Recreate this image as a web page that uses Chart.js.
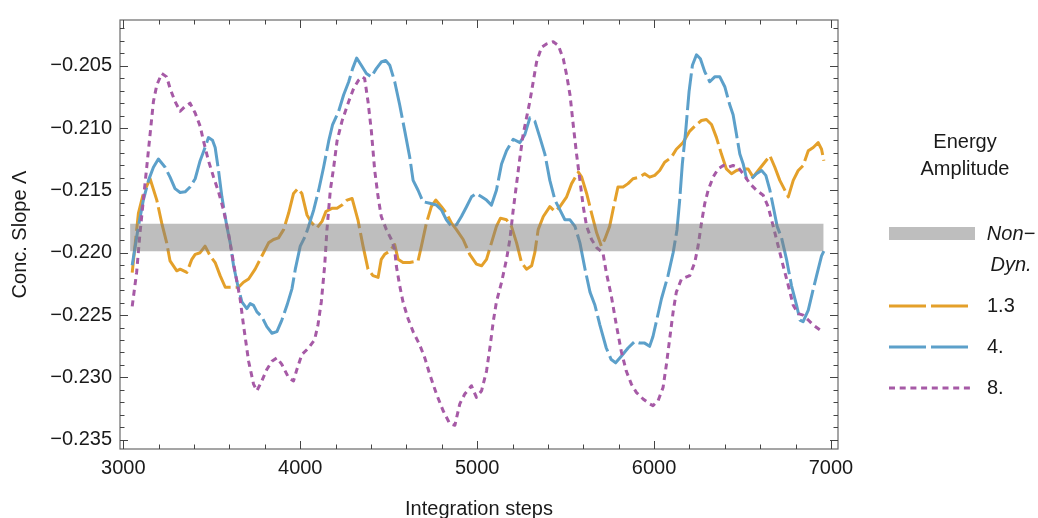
<!DOCTYPE html>
<html>
<head>
<meta charset="utf-8">
<script src="https://cdn.jsdelivr.net/npm/chart.js@4.4.1/dist/chart.umd.min.js"></script>
<style>
  body { margin: 0; background: #fff; }
  #wrap { width: 1038px; height: 518px; }
</style>
</head>
<body>
<div id="wrap"><canvas id="myChart" width="1038" height="518"></canvas></div>
<script>
// series 1.3
var steps13 = [3050,3085,3113,3151,3189,3217,3245,3264,3302,3321,3359,3387,3406,3434,3462,3491,3519,3547,3576,3613,3651,3679,3708,3745,3783,3821,3849,3877,3906,3934,3962,3987,4009,4038,4066,4094,4123,4145,4179,4208,4236,4264,4293,4326,4355,4383,4411,4440,4458,4477,4506,4534,4553,4581,4619,4666,4685,4713,4741,4766,4798,4826,4855,4883,4921,4958,4996,5025,5053,5081,5109,5132,5166,5194,5223,5251,5279,5308,5326,5345,5374,5411,5440,5468,5506,5534,5572,5591,5619,5647,5676,5702,5721,5749,5768,5796,5825,5853,5881,5919,5947,5975,6004,6032,6060,6098,6126,6164,6202,6240,6268,6296,6325,6353,6381,6409,6438,6466,6494,6532,6560,6589,6626,6655,6683,6711,6759,6787,6815,6843,6872,6900,6928,6947,6960];
var vals13 = [-0.2216,-0.21684,-0.21525,-0.21407,-0.21578,-0.21763,-0.21921,-0.22066,-0.22145,-0.22132,-0.22158,-0.22053,-0.22013,-0.22000,-0.21947,-0.22026,-0.22079,-0.22184,-0.22277,-0.22277,-0.22277,-0.22237,-0.22211,-0.22132,-0.22026,-0.21921,-0.21894,-0.21881,-0.21815,-0.21684,-0.21525,-0.21486,-0.21525,-0.21697,-0.21763,-0.21802,-0.21749,-0.21670,-0.21644,-0.21644,-0.21618,-0.21578,-0.21565,-0.21736,-0.21947,-0.22132,-0.22184,-0.22198,-0.22053,-0.22013,-0.21987,-0.21934,-0.22053,-0.22079,-0.22079,-0.22066,-0.21947,-0.21763,-0.21631,-0.21578,-0.21631,-0.21684,-0.21763,-0.21815,-0.21894,-0.22013,-0.22092,-0.22105,-0.22053,-0.21921,-0.21789,-0.21723,-0.21736,-0.21789,-0.21921,-0.22079,-0.22132,-0.22105,-0.22000,-0.21815,-0.21710,-0.21631,-0.21670,-0.21631,-0.21552,-0.21446,-0.21354,-0.21394,-0.21525,-0.21684,-0.21842,-0.21947,-0.21894,-0.21789,-0.21657,-0.21473,-0.21473,-0.21446,-0.21407,-0.21394,-0.21367,-0.21394,-0.21380,-0.21341,-0.21275,-0.21235,-0.21170,-0.21117,-0.21025,-0.20972,-0.20940,-0.20932,-0.20972,-0.21077,-0.21209,-0.21328,-0.21367,-0.21341,-0.21328,-0.21328,-0.21394,-0.21341,-0.21275,-0.21222,-0.21315,-0.21420,-0.21552,-0.21420,-0.21341,-0.21301,-0.21183,-0.21156,-0.21117,-0.21170,-0.21262];

// series 4.
var steps4 = [3050,3085,3113,3142,3170,3198,3236,3264,3292,3321,3349,3377,3406,3434,3462,3481,3504,3519,3538,3557,3585,3604,3623,3647,3670,3698,3717,3736,3755,3783,3811,3840,3868,3896,3925,3953,3972,4000,4028,4047,4076,4104,4132,4161,4183,4217,4245,4274,4296,4319,4345,4374,4402,4430,4458,4483,4506,4534,4562,4591,4619,4638,4666,4694,4732,4770,4798,4826,4855,4883,4911,4940,4968,4996,5025,5053,5081,5109,5138,5166,5204,5242,5270,5298,5326,5355,5383,5411,5440,5468,5496,5525,5553,5581,5610,5638,5666,5694,5730,5758,5783,5815,5853,5891,5919,5947,5975,5994,6013,6042,6079,6108,6130,6145,6160,6179,6198,6217,6240,6262,6287,6315,6343,6372,6400,6428,6447,6466,6485,6504,6523,6551,6579,6608,6632,6655,6674,6696,6721,6749,6777,6806,6825,6843,6872,6896,6919,6947,6960];
var vals4 = [-0.2210,-0.21789,-0.21578,-0.21420,-0.21315,-0.21249,-0.21315,-0.21394,-0.21486,-0.21517,-0.21512,-0.21473,-0.21407,-0.21262,-0.21156,-0.21077,-0.21098,-0.21156,-0.21341,-0.21552,-0.21789,-0.21921,-0.22105,-0.22263,-0.22395,-0.22448,-0.22408,-0.22422,-0.22474,-0.22514,-0.22593,-0.22646,-0.22633,-0.22540,-0.22422,-0.22290,-0.22132,-0.21947,-0.21868,-0.21789,-0.21657,-0.21499,-0.21315,-0.21104,-0.20972,-0.20866,-0.20735,-0.20629,-0.20524,-0.20439,-0.20497,-0.20563,-0.20590,-0.20524,-0.20471,-0.20458,-0.20497,-0.20629,-0.20814,-0.21025,-0.21235,-0.21420,-0.21499,-0.21591,-0.21604,-0.21618,-0.21657,-0.21736,-0.21789,-0.21776,-0.21710,-0.21631,-0.21552,-0.21525,-0.21552,-0.21578,-0.21618,-0.21499,-0.21288,-0.21183,-0.21090,-0.21117,-0.21051,-0.20919,-0.20945,-0.21077,-0.21209,-0.21420,-0.21578,-0.21657,-0.21736,-0.21736,-0.21789,-0.21921,-0.22132,-0.22316,-0.22422,-0.22580,-0.22764,-0.22857,-0.22883,-0.22830,-0.22764,-0.22712,-0.22725,-0.22725,-0.22751,-0.22672,-0.22553,-0.22369,-0.22184,-0.22000,-0.21815,-0.21578,-0.21288,-0.21025,-0.20708,-0.20497,-0.20413,-0.20445,-0.20550,-0.20629,-0.20590,-0.20590,-0.20669,-0.20814,-0.20893,-0.21051,-0.21209,-0.21288,-0.21407,-0.21407,-0.21367,-0.21341,-0.21380,-0.21499,-0.21631,-0.21789,-0.21881,-0.22053,-0.22263,-0.22422,-0.22540,-0.22553,-0.22461,-0.22316,-0.22184,-0.22026,-0.21987];

// series 8.
var steps8 = [3050,3075,3094,3113,3132,3151,3170,3189,3217,3245,3264,3292,3321,3349,3377,3406,3434,3453,3481,3510,3538,3566,3594,3613,3632,3660,3679,3708,3736,3755,3783,3811,3840,3868,3896,3934,3962,3981,4009,4047,4081,4100,4119,4138,4151,4170,4189,4208,4236,4274,4302,4330,4350,4364,4383,4402,4421,4440,4458,4487,4515,4534,4543,4562,4581,4609,4638,4675,4704,4732,4770,4807,4845,4874,4902,4930,4968,4996,5025,5053,5072,5091,5109,5138,5166,5185,5204,5223,5242,5260,5279,5298,5317,5336,5364,5392,5430,5459,5487,5506,5525,5543,5562,5581,5600,5619,5647,5676,5711,5730,5758,5787,5815,5843,5872,5900,5938,5975,5994,6023,6051,6070,6089,6108,6126,6155,6202,6230,6249,6268,6287,6306,6334,6362,6391,6419,6447,6475,6504,6542,6579,6617,6645,6674,6702,6730,6759,6787,6815,6843,6872,6900,6938,6960];
var vals8 = [-0.2243,-0.22158,-0.21842,-0.21578,-0.21315,-0.21051,-0.20787,-0.20656,-0.20563,-0.20590,-0.20682,-0.20787,-0.20866,-0.20827,-0.20801,-0.20880,-0.20985,-0.21104,-0.21262,-0.21394,-0.21512,-0.21657,-0.21842,-0.22000,-0.22158,-0.22369,-0.22580,-0.22870,-0.23054,-0.23107,-0.23028,-0.22936,-0.22870,-0.22843,-0.22896,-0.23002,-0.23028,-0.22936,-0.22817,-0.22764,-0.22698,-0.22580,-0.22395,-0.22105,-0.21815,-0.21499,-0.21315,-0.21104,-0.20945,-0.20787,-0.20682,-0.20616,-0.20590,-0.20603,-0.20787,-0.21025,-0.21341,-0.21552,-0.21710,-0.21815,-0.21894,-0.21974,-0.22105,-0.22263,-0.22395,-0.22527,-0.22633,-0.22738,-0.22843,-0.22975,-0.23133,-0.23265,-0.23371,-0.23384,-0.23212,-0.23133,-0.23067,-0.23160,-0.23107,-0.22949,-0.22764,-0.22553,-0.22395,-0.22237,-0.22053,-0.21894,-0.21657,-0.21446,-0.21235,-0.21051,-0.20919,-0.20787,-0.20629,-0.20471,-0.20352,-0.20326,-0.20308,-0.20339,-0.20445,-0.20576,-0.20735,-0.20972,-0.21209,-0.21420,-0.21631,-0.21789,-0.21894,-0.21960,-0.22000,-0.22158,-0.22343,-0.22580,-0.22791,-0.22949,-0.23054,-0.23120,-0.23173,-0.23212,-0.23226,-0.23186,-0.23081,-0.22896,-0.22685,-0.22474,-0.22316,-0.22211,-0.22184,-0.22079,-0.21947,-0.21763,-0.21604,-0.21499,-0.21394,-0.21328,-0.21301,-0.21315,-0.21301,-0.21315,-0.21367,-0.21446,-0.21499,-0.21539,-0.21631,-0.21789,-0.21947,-0.22105,-0.22263,-0.22422,-0.22488,-0.22501,-0.22540,-0.22580,-0.22619,-0.22633];

// non-dynamic band
var bandSteps = [3038, 6959];
var bandTop = [-0.21768, -0.21768];
var bandBottom = [-0.21989, -0.21989];

var xTicks = [3000, 4000, 5000, 6000, 7000];
var yTicks = [-0.235, -0.230, -0.225, -0.220, -0.215, -0.210, -0.205];

var seriesLabels = ['1.3', '4.', '8.'];
var colors = ['rgb(228,160,42)', 'rgb(92,160,202)', 'rgb(166,90,166)'];
var dashes = [[37, 5], [37, 5], [6, 4.7]];
var FONT = '"Liberation Sans", Arial, sans-serif';

function pts(xs, ys) {
    return xs.map(function (x, i) { return { x: x, y: ys[i] }; });
}

function lineSet(i, xs, ys, order) {
    return {
        label: seriesLabels[i],
        data: pts(xs, ys),
        borderColor: colors[i],
        borderWidth: 3,
        borderDash: dashes[i],
        borderCapStyle: 'butt',
        borderJoinStyle: 'round',
        pointRadius: 0,
        fill: false,
        tension: 0,
        order: order
    };
}

// frame with inward ticks on all four sides
var framePlugin = {
    id: 'frame',
    afterDatasetsDraw: function (chart) {
        var ctx = chart.ctx, a = chart.chartArea;
        var x = chart.scales.x, y = chart.scales.y;
        ctx.save();
        ctx.strokeStyle = '#6a6a6a';
        ctx.lineWidth = 1.2;
        ctx.strokeRect(a.left, a.top, a.right - a.left, a.bottom - a.top);
        ctx.strokeStyle = '#444';
        ctx.lineWidth = 1;
        ctx.beginPath();
        for (var s = 3000; s <= 7000; s += 200) {
            var px = Math.round(x.getPixelForValue(s)) + 0.5;
            var len = (s % 1000 === 0) ? 8 : 4.5;
            ctx.moveTo(px, a.bottom); ctx.lineTo(px, a.bottom - len);
            ctx.moveTo(px, a.top); ctx.lineTo(px, a.top + len);
        }
        for (var k = -235; k <= -202; k += 1) {
            var py = Math.round(y.getPixelForValue(k / 1000)) + 0.5;
            var ylen = (k % 5 === 0) ? 8 : 4.5;
            ctx.moveTo(a.left, py); ctx.lineTo(a.left + ylen, py);
            ctx.moveTo(a.right, py); ctx.lineTo(a.right - ylen, py);
        }
        ctx.stroke();
        ctx.restore();
    }
};

var legendPlugin = {
    id: 'sideLegend',
    afterDraw: function (chart) {
        var ctx = chart.ctx;
        ctx.save();
        ctx.fillStyle = '#1a1a1a';
        ctx.font = '20px ' + FONT;
        ctx.textAlign = 'center';
        ctx.textBaseline = 'middle';
        ctx.fillText('Energy', 965, 142);
        ctx.fillText('Amplitude', 965, 169);

        ctx.fillStyle = 'rgb(190,190,190)';
        ctx.fillRect(889, 227, 86, 13);
        ctx.fillStyle = '#1a1a1a';
        ctx.font = 'italic 20px ' + FONT;
        ctx.fillText('Non\u2212', 1011, 234);
        ctx.fillText('Dyn.', 1011, 265);

        var ys = [306, 347, 388];
        ctx.font = '20px ' + FONT;
        ctx.textAlign = 'left';
        for (var i = 0; i < 3; i++) {
            ctx.strokeStyle = colors[i];
            ctx.lineWidth = 3;
            ctx.lineCap = 'butt';
            ctx.setLineDash(dashes[i]);
            ctx.beginPath();
            ctx.moveTo(889, ys[i]);
            ctx.lineTo(970, ys[i]);
            ctx.stroke();
            ctx.setLineDash([]);
            ctx.fillText(seriesLabels[i], 987, ys[i]);
        }
        ctx.restore();
    }
};

var ctx = document.getElementById('myChart').getContext('2d');
var myChart = new Chart(ctx, {
    type: 'line',
    data: {
        datasets: [
            {
                label: 'band top',
                data: pts(bandSteps, bandTop),
                borderWidth: 0,
                pointRadius: 0,
                fill: false,
                order: 0
            },
            {
                label: 'Non-Dyn.',
                data: pts(bandSteps, bandBottom),
                borderWidth: 0,
                pointRadius: 0,
                fill: '-1',
                backgroundColor: 'rgba(125,125,125,0.5)',
                order: 0
            },
            lineSet(2, steps8, vals8, 1),
            lineSet(1, steps4, vals4, 2),
            lineSet(0, steps13, vals13, 3)
        ]
    },
    options: {
        responsive: false,
        animation: false,
        devicePixelRatio: 1,
        layout: { padding: { left: 0, right: 200, top: 14, bottom: 0 } },
        plugins: {
            legend: { display: false },
            tooltip: { enabled: false },
            filler: { propagate: false }
        },
        scales: {
            x: {
                type: 'linear',
                min: 2981,
                max: 7040,
                grid: { display: false, drawTicks: false },
                border: { display: false },
                afterBuildTicks: function (scale) {
                    scale.ticks = xTicks.map(function (v) { return { value: v }; });
                },
                afterFit: function (scale) { scale.height = 69; },
                ticks: {
                    autoSkip: false,
                    maxRotation: 0,
                    padding: 7,
                    color: '#1a1a1a',
                    font: { family: FONT, size: 20 },
                    callback: function (v) { return String(v); }
                },
                title: {
                    display: true,
                    text: 'Integration steps',
                    color: '#1a1a1a',
                    font: { family: FONT, size: 20, lineHeight: 0.9 },
                    padding: { top: 0, bottom: 0 }
                }
            },
            y: {
                type: 'linear',
                min: -0.23574,
                max: -0.20134,
                grid: { display: false, drawTicks: false },
                border: { display: false },
                afterBuildTicks: function (scale) {
                    scale.ticks = yTicks.map(function (v) { return { value: v }; });
                },
                afterFit: function (scale) { scale.width = 120; },
                ticks: {
                    autoSkip: false,
                    padding: 8,
                    color: '#1a1a1a',
                    font: { family: FONT, size: 20 },
                    callback: function (v) { return '\u2212' + Math.abs(v).toFixed(3); }
                },
                title: {
                    display: true,
                    text: 'Conc. Slope \u039B',
                    color: '#1a1a1a',
                    font: { family: FONT, size: 20, lineHeight: 1.2 },
                    padding: { top: 8, bottom: 0 }
                }
            }
        }
    },
    plugins: [framePlugin, legendPlugin]
});
</script>
</body>
</html>
